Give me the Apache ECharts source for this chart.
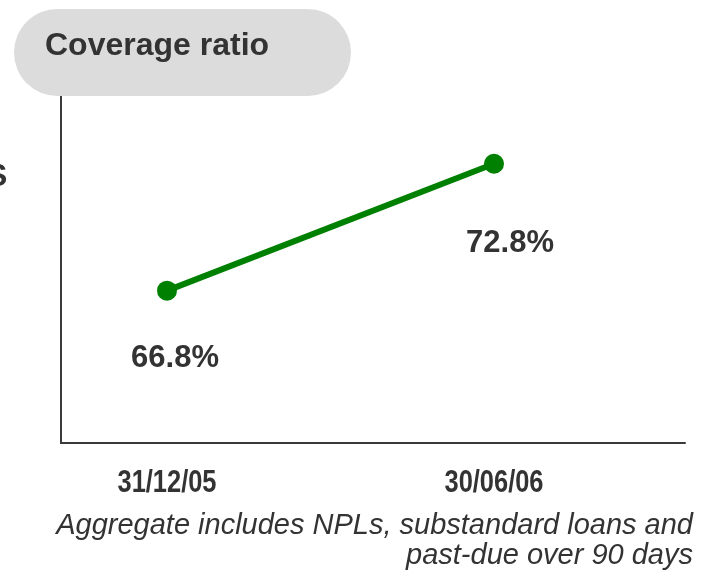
<!DOCTYPE html>
<html>
<head>
<meta charset="utf-8">
<script src="https://cdn.jsdelivr.net/npm/echarts@6/dist/echarts.min.js"></script>
<style>
  html, body { margin: 0; padding: 0; background: #ffffff; }
  #chart { width: 710px; height: 570px; }
</style>
</head>
<body>
<div id="chart"></div>
<script>
// Coverage ratio at two reporting dates
const dates = ['31/12/05', '30/06/06'];
const coverage = [66.8, 72.8];
const titleText = 'Coverage ratio';
const noteLines = ['Aggregate includes NPLs, substandard loans and', 'past-due over 90 days'];

const textColor = '#333333';
const axisColor = '#3a3a3a';
const yMin = 59.6;
const yMax = 76;

// per-point label offsets (label sits below-right of each marker)
const labelOffsets = [[8, 68], [16, 80]];

const seriesData = coverage.map((v, i) => ({
  value: v,
  label: { offset: labelOffsets[i] }
}));

const chart = echarts.init(document.getElementById('chart'), null, { renderer: 'canvas' });

chart.setOption({
  animation: false,
  backgroundColor: '#ffffff',
  grid: [
    // plotting grid for the line
    { left: 167, right: 216, top: 96, bottom: 127, containLabel: false },
    // frame grid drawing the L-shaped axes
    { left: 61, right: 25, top: 96, bottom: 127, containLabel: false }
  ],
  xAxis: [
    {
      type: 'category', gridIndex: 0, data: dates, boundaryGap: false,
      axisLine: { show: false }, axisTick: { show: false },
      axisLabel: { show: false },
      splitLine: { show: false }
    },
    {
      type: 'value', gridIndex: 1, min: 0, max: 1,
      axisLine: { show: true, lineStyle: { color: axisColor, width: 2 } },
      axisTick: { show: false }, axisLabel: { show: false }, splitLine: { show: false }
    }
  ],
  yAxis: [
    {
      type: 'value', gridIndex: 0, min: yMin, max: yMax,
      axisLine: { show: false }, axisTick: { show: false },
      axisLabel: { show: false }, splitLine: { show: false }
    },
    {
      type: 'value', gridIndex: 1, min: 0, max: 1,
      axisLine: { show: true, onZero: false, lineStyle: { color: axisColor, width: 2 } },
      axisTick: { show: false }, axisLabel: { show: false }, splitLine: { show: false }
    }
  ],
  series: [
    {
      type: 'line',
      xAxisIndex: 0, yAxisIndex: 0,
      data: seriesData,
      symbol: 'circle',
      symbolSize: 20,
      lineStyle: { color: '#008000', width: 6 },
      itemStyle: { color: '#008000' },
      label: {
        show: true,
        position: 'inside',
        formatter: p => p.value.toFixed(1) + '%',
        color: textColor,
        fontSize: 31,
        fontWeight: 'bold',
        fontFamily: '"Liberation Sans", Arial, sans-serif'
      },
      z: 3
    },
    {
      // condensed bold date labels under each category
      type: 'custom',
      xAxisIndex: 0, yAxisIndex: 0,
      data: dates.map((d, i) => [i]),
      silent: true,
      renderItem: (params, api) => {
        const idx = api.value(0);
        const p = api.coord([idx, yMin]);
        return {
          type: 'text',
          x: p[0],
          y: p[1] + 40,
          scaleX: 0.82,
          style: {
            text: dates[idx],
            fill: textColor,
            font: 'bold 31px "Liberation Sans", Arial, sans-serif',
            align: 'center',
            verticalAlign: 'middle'
          }
        };
      }
    }
  ],
  graphic: [
    {
      type: 'rect',
      shape: { x: 14, y: 9, width: 337, height: 87, r: 43.5 },
      style: { fill: '#dcdcdc' },
      z: 1
    },
    {
      type: 'text',
      x: 45, y: 46,
      style: {
        text: titleText,
        fill: textColor,
        font: 'bold 32px "Liberation Sans", Arial, sans-serif',
        verticalAlign: 'middle', align: 'left'
      },
      z: 2
    },
    {
      type: 'text',
      x: -14, y: 177,
      style: {
        text: 'S',
        fill: textColor,
        font: 'bold 32px "Liberation Sans", Arial, sans-serif',
        verticalAlign: 'middle', align: 'left'
      }
    },
    {
      type: 'text',
      x: 693, y: 511,
      style: {
        text: noteLines.join('\n'),
        fill: textColor,
        font: 'italic 29px "Liberation Sans", Arial, sans-serif',
        lineHeight: 30,
        align: 'right', verticalAlign: 'top'
      }
    }
  ]
});
</script>
</body>
</html>
